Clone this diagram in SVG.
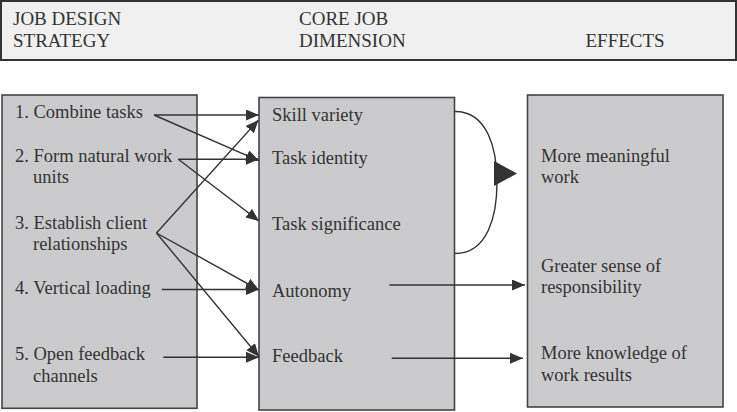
<svg xmlns="http://www.w3.org/2000/svg" width="737" height="412" viewBox="0 0 737 412">
<defs>
<style>
.hdr{fill:#f0f0f0;stroke:#333;stroke-width:2}
.box{fill:#cbcbcd;stroke:#444;stroke-width:1.6}
.h{font-size:19px}
.t{font-size:18.5px}
.c{stroke:#333;stroke-width:1.4;fill:none}
.ca{stroke:#333;stroke-width:1.4;fill:none;marker-end:url(#ah)}
</style>
<marker id="ah" markerUnits="userSpaceOnUse" markerWidth="14" markerHeight="12" refX="13" refY="5.5" orient="auto">
<path d="M0,0 L13,5.5 L0,11 z" fill="#333"/>
</marker>
</defs>
<rect width="737" height="412" fill="#fff"/>
<g font-family="Liberation Serif, Times New Roman, DejaVu Serif, serif" fill="#333">
<g id="header">
<rect class="hdr" x="1" y="1" width="735" height="59"/>
<text class="h" x="13" y="25.3">JOB DESIGN</text>
<text class="h" x="13" y="46.7">STRATEGY</text>
<text class="h" x="299" y="25.3">CORE JOB</text>
<text class="h" x="299" y="46.7">DIMENSION</text>
<text class="h" x="585.5" y="46.7">EFFECTS</text>
</g>
<g id="strategies">
<rect class="box" x="2" y="95" width="195" height="313.3"/>
<text class="t" x="15" y="118.3">1. Combine tasks</text>
<text class="t" x="15" y="161.7">2. Form natural work</text>
<text class="t" x="33" y="183.3">units</text>
<text class="t" x="15" y="228.5">3. Establish client</text>
<text class="t" x="33" y="250">relationships</text>
<text class="t" x="15" y="294.3">4. Vertical loading</text>
<text class="t" x="15" y="360">5. Open feedback</text>
<text class="t" x="33" y="381.7">channels</text>
</g>
<g id="dimensions">
<rect class="box" x="259" y="97.5" width="195.5" height="312.5"/>
<text class="t" x="272" y="121">Skill variety</text>
<text class="t" x="272" y="164.3">Task identity</text>
<text class="t" x="272" y="230">Task significance</text>
<text class="t" x="272" y="296.7">Autonomy</text>
<text class="t" x="272" y="361.7">Feedback</text>
</g>
<g id="effects">
<rect class="box" x="527.5" y="95" width="195.5" height="312"/>
<text class="t" x="541" y="161.7">More meaningful</text>
<text class="t" x="541" y="183.3">work</text>
<text class="t" x="541" y="271.7">Greater sense of</text>
<text class="t" x="541" y="293.3">responsibility</text>
<text class="t" x="541" y="359.3">More knowledge of</text>
<text class="t" x="541" y="380.5">work results</text>
</g>
</g>
<g id="connectors">
<line class="ca" x1="154" y1="115" x2="259" y2="115"/>
<line class="ca" x1="154" y1="115" x2="259" y2="160.7"/>
<line class="ca" x1="178.3" y1="159.3" x2="259" y2="159.3"/>
<line class="ca" x1="178.3" y1="159.3" x2="259" y2="221"/>
<line class="ca" x1="156.5" y1="233" x2="258.5" y2="120"/>
<line class="ca" x1="156.5" y1="233" x2="259" y2="290"/>
<line class="ca" x1="156.5" y1="233" x2="259" y2="356.7"/>
<line class="ca" x1="161.7" y1="289.5" x2="259" y2="289.5"/>
<line class="ca" x1="163.3" y1="357.3" x2="259" y2="357.3"/>
<path class="c" d="M455,111.5 C488,111.5 497,150 497,182.5 C497,215 488,253.5 455,253.5"/>
<polygon points="494,161 517,173.5 494,186" fill="#333"/>
<line class="ca" x1="389.3" y1="285" x2="525" y2="285"/>
<line class="ca" x1="391.7" y1="358.3" x2="523" y2="358.3"/>
</g>
</svg>
